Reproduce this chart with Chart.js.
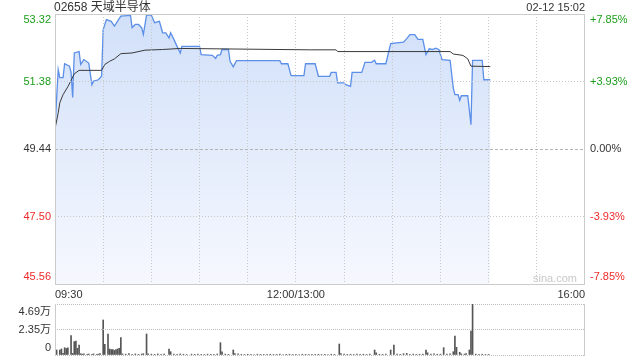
<!DOCTYPE html>
<html><head><meta charset="utf-8">
<script src="https://cdn.jsdelivr.net/npm/chart.js@4"></script>
<style>
html,body{margin:0;padding:0;background:#fff;width:640px;height:360px;overflow:hidden}
#c1{position:absolute;left:0;top:0}
#c2{position:absolute;left:0;top:300px}
</style></head><body>
<canvas id="c1" width="640" height="300"></canvas>
<canvas id="c2" width="640" height="60"></canvas>
<script>
const titleText = '02658 天域半导体';
const stampText = '02-12 15:02';
const watermark = 'sina.com';
const prevClose = 49.44;
const priceTicks = [45.56, 47.50, 49.44, 51.38, 53.32];
const priceLabels = ['45.56', '47.50', '49.44', '51.38', '53.32'];
const pctLabels = ['-7.85%', '-3.93%', '0.00%', '+3.93%', '+7.85%'];
const timeLabels = ['09:30', '12:00/13:00', '16:00'];
const timeLabelMinutes = [0, 150, 330];
const sessionMinutes = 330;

const priceMinutes = [0,2,3,5,6,9,10,11,12,15,16,18,21,23,24,27,29,30,32,35,37,41,47,48,50,52,54,55,57,60,62,65,67,69,71,72,74,76,78,79,90,91,98,100,101,103,104,108,109,111,113,140,141,145,147,155,156,162,164,171,172,175,176,180,181,184,185,191,193,197,199,200,206,209,217,219,221,224,226,229,231,233,235,237,239,241,246,248,249,251,252,253,257,259,260,266,267,271];
const priceValues = [50.05,51.72,51.49,51.49,51.89,51.82,51.64,50.92,52.20,52.24,51.87,52.01,51.91,51.29,51.39,51.43,51.53,52.87,53.16,53.11,52.97,53.26,53.28,52.93,53.02,53.02,52.92,52.73,53.29,53.29,53.07,53.11,52.78,52.78,52.63,52.78,52.59,52.39,52.20,52.39,52.39,52.15,52.13,52.04,52.13,52.15,52.30,52.30,51.96,51.80,51.98,51.98,51.89,51.89,51.55,51.55,51.89,51.89,51.53,51.53,51.64,51.64,51.34,51.34,51.29,51.24,51.64,51.64,51.93,51.93,51.99,51.89,51.89,52.47,52.51,52.61,52.73,52.73,52.59,52.59,52.15,52.32,52.30,52.34,52.30,52.01,51.99,51.19,51.00,51.00,50.84,50.97,50.97,50.14,51.99,51.99,51.43,51.43];

const avgMinutes = [0,2,3,5,8,10,12,15,29,31,34,37,41,48,56,67,78,159,175,176,246,248,254,257,259,271];
const avgValues = [50.02,50.48,50.77,51.00,51.23,51.41,51.60,51.70,51.70,51.87,51.96,52.03,52.18,52.20,52.28,52.30,52.33,52.29,52.29,52.24,52.24,52.17,52.13,52.03,51.82,51.81];

const volMinutes = [0,1,3,4,5,6,7,8,10,11,
 12,13,14,15,16,17,18,20,21,23,
 24,26,27,28,30,31,33,34,35,36,
 37,38,39,40,41,42,44,46,48,50,
 52,54,55,57,58,60,62,64,66,68,
 71,72,74,76,78,80,82,85,87,89,
 91,93,95,97,99,101,103,104,106,108,
 111,112,114,116,118,120,122,124,126,128,
 130,132,134,136,138,140,142,144,146,148,
 150,152,154,156,158,160,162,164,166,168,
 170,172,174,177,178,180,182,184,186,188,
 190,192,194,196,199,200,202,204,206,209,
 211,213,215,217,219,221,223,225,227,229,
 231,232,234,236,238,240,242,244,246,248,
 249,250,252,253,255,256,258,259,260,262,
 264,266,268,270];
const volValues = [0.55,0.46,0.46,0.55,0.15,0.67,0.60,0.67,1.78,0.15,
 1.23,1.29,0.61,0.92,0.12,0.08,0.10,0.06,0.09,0.07,
 0.10,0.06,0.08,0.12,3.22,0.98,1.93,0.55,0.50,0.50,
 0.42,0.50,0.55,0.62,1.60,0.10,0.08,0.12,0.07,0.10,
 0.06,0.09,0.12,1.93,0.10,0.08,0.06,0.10,0.07,0.09,
 0.55,0.30,0.08,0.06,0.10,0.07,0.05,0.08,0.06,0.09,
 0.07,0.05,0.08,0.06,0.07,0.09,1.13,0.30,0.08,0.06,
 0.46,0.12,0.10,0.06,0.05,0.07,0.06,0.05,0.07,0.06,
 0.05,0.06,0.07,0.05,0.06,0.08,0.05,0.06,0.07,0.05,
 0.06,0.05,0.07,0.06,0.05,0.06,0.05,0.07,0.05,0.06,
 0.05,0.07,0.06,1.01,0.12,0.08,0.06,0.07,0.05,0.08,
 0.06,0.07,0.05,0.08,0.46,0.20,0.07,0.06,0.08,0.46,
 0.92,0.08,0.06,0.12,0.15,0.07,0.08,0.06,0.07,0.08,
 0.46,0.20,0.08,0.10,0.07,0.08,0.67,0.08,0.10,0.30,
 1.75,0.71,0.25,0.10,0.08,0.12,0.46,2.21,4.69,0.08,
 0.06,0.07,0.05,0.06];
const volTicks = [0, 2.345, 4.69];
const volLabels = ['0', '2.35万', '4.69万'];

const FONT = '"Liberation Sans", Arial, "Noto Sans CJK SC", sans-serif';
const GREEN = '#1b9e1b', RED = '#ee2b2b', DARK = '#333333';

const zip = (xs, ys) => xs.map((x, i) => ({x, y: ys[i]}));

const pricePlugin = {
  id: 'priceDecor',
  afterDraw(chart) {
    const {ctx, chartArea: a, scales} = chart;
    ctx.save();
    ctx.strokeStyle = '#cccccc';
    ctx.lineWidth = 1;
    ctx.strokeRect(a.left + 0.5, a.top + 0.5, a.right - a.left - 1, a.bottom - a.top);
    ctx.textBaseline = 'middle';
    ctx.fillStyle = DARK;
    ctx.font = '12px ' + FONT;
    ctx.textAlign = 'left';
    ctx.fillText(titleText, a.left - 1, 7.5);
    ctx.font = '11px ' + FONT;
    ctx.textAlign = 'right';
    ctx.fillText(stampText, a.right, 8);
    priceTicks.forEach((v, i) => {
      let y = scales.y.getPixelForValue(v);
      y = Math.min(Math.max(y, a.top + 6), a.bottom - 7);
      ctx.fillStyle = v > prevClose + 1e-6 ? GREEN : (v < prevClose - 1e-6 ? RED : DARK);
      ctx.textAlign = 'right';
      ctx.fillText(priceLabels[i], a.left - 4, y);
      ctx.textAlign = 'left';
      ctx.fillText(pctLabels[i], a.right + 5, y);
    });
    ctx.fillStyle = DARK;
    timeLabels.forEach((t, i) => {
      const x = scales.x.getPixelForValue(timeLabelMinutes[i]);
      ctx.textAlign = i === 0 ? 'left' : (i === timeLabels.length - 1 ? 'right' : 'center');
      ctx.fillText(t, x, a.bottom + 10.5);
    });
    ctx.fillStyle = '#c9c9c9';
    ctx.textAlign = 'right';
    ctx.fillText(watermark, a.right - 8, a.bottom - 5);
    ctx.restore();
  }
};

const volPlugin = {
  id: 'volDecor',
  afterDraw(chart) {
    const {ctx, chartArea: a, scales} = chart;
    ctx.save();
    ctx.strokeStyle = '#cccccc';
    ctx.lineWidth = 1;
    ctx.beginPath();
    ctx.moveTo(a.left + 0.5, a.top); ctx.lineTo(a.left + 0.5, a.bottom + 1);
    ctx.moveTo(a.right - 0.5, a.top); ctx.lineTo(a.right - 0.5, a.bottom + 1);
    ctx.stroke();
    ctx.font = '11px ' + FONT;
    ctx.textBaseline = 'middle';
    ctx.textAlign = 'right';
    ctx.fillStyle = DARK;
    volTicks.forEach((v, i) => {
      let y = scales.y.getPixelForValue(v);
      y = Math.min(Math.max(y, a.top + 8), a.bottom - 7);
      ctx.fillText(volLabels[i], a.left - 4, y);
    });
    ctx.restore();
  }
};

const edge = (c, lo, hi) => (Math.abs(c.tick.value - lo) < 1e-6 || Math.abs(c.tick.value - hi) < 1e-6);

new Chart(document.getElementById('c1'), {
  type: 'line',
  data: {
    datasets: [
      {
        data: zip(avgMinutes, avgValues),
        borderColor: '#3a3a3a', borderWidth: 1, pointRadius: 0, fill: false, tension: 0, order: 0
      },
      {
        data: zip(priceMinutes, priceValues),
        borderColor: '#5b8fe8', borderWidth: 1.3, pointRadius: 0, tension: 0, order: 1,
        fill: 'start',
        backgroundColor: (c) => {
          const a = c.chart.chartArea;
          if (!a) return 'rgba(0,0,0,0)';
          const g = c.chart.ctx.createLinearGradient(0, a.top, 0, a.bottom);
          g.addColorStop(0, '#d1e0f9');
          g.addColorStop(1, '#f6f8fe');
          return g;
        }
      }
    ]
  },
  options: {
    responsive: false, animation: false, devicePixelRatio: 1,
    layout: {padding: {left: 55, right: 55, top: 14, bottom: 16}},
    plugins: {legend: {display: false}, tooltip: {enabled: false}},
    scales: {
      x: {
        type: 'linear', min: 0, max: sessionMinutes,
        ticks: {display: false, stepSize: 30},
        grid: {z: 1, drawTicks: false, color: (c) => edge(c, 0, sessionMinutes) ? 'rgba(0,0,0,0)' : '#c8c8c8'},
        border: {display: false, dash: [1, 2]}
      },
      y: {
        min: priceTicks[0], max: priceTicks[priceTicks.length - 1],
        afterBuildTicks: (s) => { s.ticks = priceTicks.map(v => ({value: v})); },
        ticks: {display: false},
        grid: {z: 1, drawTicks: false, color: (c) => edge(c, priceTicks[0], priceTicks[priceTicks.length - 1]) ? 'rgba(0,0,0,0)' : (Math.abs(c.tick.value - prevClose) < 1e-6 ? '#b4b4b4' : '#c8c8c8')},
        border: {display: false, dash: (c) => (c.tick && Math.abs(c.tick.value - prevClose) < 1e-6) ? [3, 2] : [1, 2]}
      }
    }
  },
  plugins: [pricePlugin]
});

new Chart(document.getElementById('c2'), {
  type: 'bar',
  data: {
    datasets: [{
      data: zip(volMinutes, volValues),
      backgroundColor: '#555555', barThickness: 1, borderWidth: 0
    }]
  },
  options: {
    responsive: false, animation: false, devicePixelRatio: 1,
    layout: {padding: {left: 55, right: 55, top: 4, bottom: 5}},
    plugins: {legend: {display: false}, tooltip: {enabled: false}},
    scales: {
      x: {
        type: 'linear', min: 0, max: sessionMinutes, offset: false,
        ticks: {display: false},
        grid: {display: false, drawTicks: false},
        border: {display: false}
      },
      y: {
        min: 0, max: volTicks[volTicks.length - 1],
        afterBuildTicks: (s) => { s.ticks = volTicks.map(v => ({value: v})); },
        ticks: {display: false},
        grid: {z: 1, drawTicks: false, color: '#bdbdbd'},
        border: {display: false, dash: [1, 1]}
      }
    }
  },
  plugins: [volPlugin]
});
</script>
</body></html>
